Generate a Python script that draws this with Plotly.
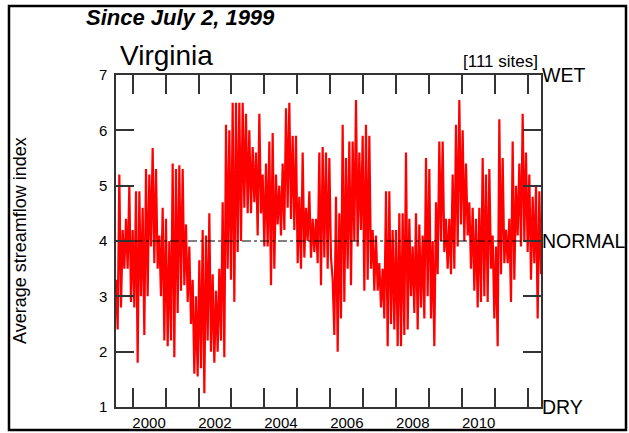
import plotly.graph_objects as go
import pandas as pd

# ---- data ----
start_date = "1999-07-02"
end_date = "2012-05-22"

# streamflow index readings, alternating local high / local low, left to right
streamflow_index = [
    3.3, 2.4, 5.2, 2.8, 4.2, 3.5, 4.4, 3.5, 5.0, 2.9, 4.2, 2.8, 4.9, 1.8, 4.9, 3.0,
    4.6, 2.3, 5.3, 3.0, 5.2, 3.9, 5.68, 3.6, 5.3, 3.5, 4.1, 3.0, 4.6, 2.2, 4.4, 2.1,
    4.0, 2.2, 5.4, 1.9, 5.3, 2.7, 5.37, 3.1, 5.3, 3.2, 4.3, 2.9, 3.9, 2.5, 3.3, 1.6,
    3.0, 1.55, 3.65, 1.7, 4.2, 1.25, 4.1, 2.2, 4.5, 2.0, 3.4, 1.8, 3.1, 2.0, 3.5, 2.2,
    4.7, 1.9, 6.1, 3.5, 6.0, 3.3, 6.5, 2.9, 6.5, 3.8, 6.5, 4.0, 6.5, 4.6, 6.3, 4.5,
    6.0, 4.5, 5.7, 4.7, 5.6, 4.1, 6.3, 4.5, 5.2, 3.9, 5.4, 3.9, 5.8, 3.2, 5.95, 3.5,
    5.2, 4.3, 5.0, 4.1, 5.4, 4.2, 6.4, 4.6, 6.5, 4.4, 5.9, 4.2, 5.9, 3.6, 4.8, 3.5,
    5.6, 3.7, 4.6, 4.0, 4.9, 3.7, 4.4, 3.8, 4.4, 3.6, 5.6, 3.2, 5.7, 3.7, 5.6, 3.5,
    5.5, 3.7, 3.3, 2.3, 4.8, 2.0, 4.5, 2.6, 6.1, 2.9, 5.5, 3.5, 5.8, 3.2, 5.8, 4.0,
    6.55, 3.9, 5.6, 4.2, 5.9, 3.1, 6.1, 3.3, 5.9, 3.5, 4.2, 3.1, 4.1, 3.1, 3.6, 2.8,
    3.5, 2.6, 4.9, 2.1, 4.9, 2.5, 4.2, 2.4, 4.2, 2.1, 4.5, 2.1, 4.5, 2.3, 5.6, 2.4,
    4.4, 3.0, 3.9, 2.7, 4.5, 2.4, 4.3, 2.8, 4.1, 2.6, 5.5, 3.0, 5.3, 2.6, 4.0, 2.1,
    4.7, 3.4, 5.8, 4.0, 5.8, 3.8, 4.4, 3.5, 4.4, 3.4, 5.2, 3.5, 6.1, 3.9, 6.55, 4.3,
    6.0, 4.0, 5.4, 4.1, 4.7, 3.5, 4.6, 3.1, 4.4, 2.8, 4.6, 2.9, 5.5, 3.0, 5.2, 2.9,
    5.3, 3.5, 4.1, 2.6, 3.9, 2.1, 6.2, 3.4, 5.5, 3.6, 4.2, 3.6, 4.4, 2.9, 5.8, 3.3,
    5.0, 4.1, 5.4, 3.9, 6.3, 4.0, 5.6, 3.8, 5.2, 3.3, 4.8, 3.6, 5.0, 2.6, 4.9, 3.4,
]

normal_level = 4
year_ticks = [f"{y}-01-01" for y in range(2000, 2013)]
year_label_years = [2000, 2002, 2004, 2006, 2008, 2010]
y_ticks = [1, 2, 3, 4, 5, 6, 7]
right_ticks = [1, 4, 7]
right_labels = ["DRY", "NORMAL", "WET"]

dates = pd.date_range(start_date, end_date, periods=len(streamflow_index))

FONT = "Liberation Sans, Arial, sans-serif"
AXC = "#333333"

fig = go.Figure()
fig.add_trace(go.Scatter(x=dates, y=streamflow_index, mode="lines",
                         line=dict(color="#ff0000", width=2.2), showlegend=False,
                         hoverinfo="skip"))
fig.add_trace(go.Scatter(x=[start_date, end_date], y=[normal_level, normal_level],
                         mode="lines", line=dict(color="black", width=1, dash="dashdot"),
                         showlegend=False, hoverinfo="skip"))
# invisible trace to activate secondary axes
fig.add_trace(go.Scatter(x=[start_date], y=[normal_level], xaxis="x2", yaxis="y2",
                         mode="markers", marker=dict(opacity=0), showlegend=False,
                         hoverinfo="skip"))

fig.update_layout(
    width=629, height=433,
    margin=dict(l=116, r=88, t=75, b=26, autoexpand=False),
    paper_bgcolor="white", plot_bgcolor="white",
    font=dict(family=FONT, color="black"),
    xaxis=dict(range=[start_date, end_date], tickvals=year_ticks,
               ticktext=[""] * len(year_ticks), ticks="inside", ticklen=19,
               tickwidth=1.5, tickcolor=AXC, showline=True, linecolor=AXC,
               linewidth=1.5, mirror="ticks", showgrid=False, zeroline=False,
               automargin=False),
    xaxis2=dict(range=[start_date, end_date], overlaying="x", side="bottom",
                anchor="y", tickvals=[f"{y}-07-02" for y in year_label_years],
                ticktext=[str(y) for y in year_label_years], ticks="", showline=False,
                showgrid=False, zeroline=False, tickfont=dict(size=15),
                ticklabelstandoff=5, automargin=False),
    yaxis=dict(range=[1, 7], tickvals=y_ticks, ticks="inside", ticklen=18,
               tickwidth=1.5, tickcolor=AXC, showline=True, linecolor=AXC,
               linewidth=1.5, mirror="ticks", showgrid=False, zeroline=False,
               tickfont=dict(size=15), ticklabelstandoff=4, automargin=False),
    yaxis2=dict(range=[1, 7], overlaying="y", side="right", anchor="x",
                tickvals=right_ticks, ticktext=right_labels, ticks="",
                showline=False, showgrid=False, zeroline=False,
                tickfont=dict(size=19.5), ticklabelstandoff=0, automargin=False),
)

fig.add_annotation(text="<b><i>Since July 2, 1999</i></b>", xref="paper", yref="paper",
                   x=-0.0753, y=1.1717, xanchor="left", yanchor="middle",
                   showarrow=False, font=dict(size=22, family=FONT))
fig.add_annotation(text="Virginia", xref="paper", yref="paper",
                   x=0.0047, y=1.0602, xanchor="left", yanchor="middle",
                   showarrow=False, font=dict(size=28, family=FONT))
fig.add_annotation(text="[111 sites]", xref="paper", yref="paper",
                   x=0.9976, y=1.0392, xanchor="right", yanchor="middle",
                   showarrow=False, font=dict(size=17, family=FONT))
fig.add_annotation(text="Average streamflow index", xref="paper", yref="paper",
                   x=-0.2259, y=0.503, xanchor="center", yanchor="middle",
                   textangle=-90, showarrow=False, font=dict(size=18, family=FONT))

fig.add_shape(type="rect", xref="paper", yref="paper",
              x0=-0.2518, x1=1.2, y0=-0.0693, y1=1.2078,
              line=dict(color="black", width=2.5), fillcolor="rgba(0,0,0,0)")

fig.write_html("out.html", config={"displayModeBar": False},
               post_script="document.body.style.margin='0px';document.body.style.padding='0px';")
